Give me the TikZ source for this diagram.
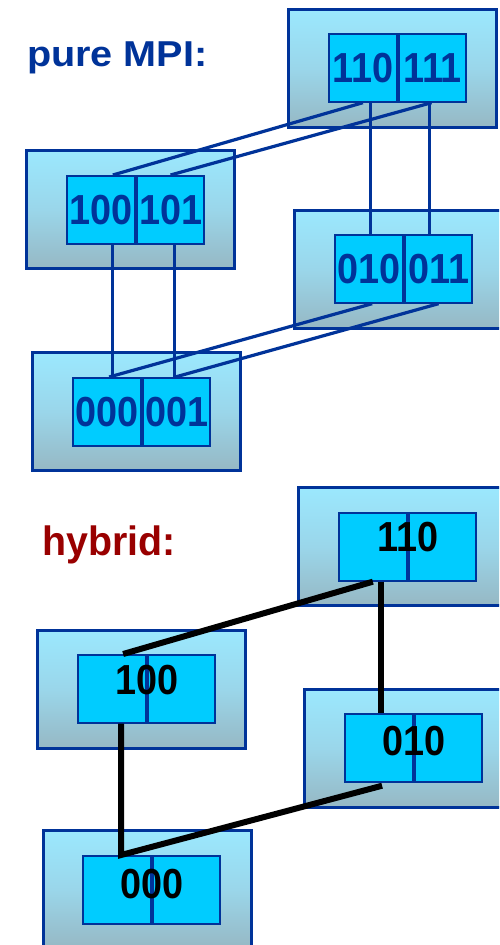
\documentclass[tikz,border=0pt]{standalone}
\usepackage{fontspec}
\setmainfont{Liberation Sans}
\usetikzlibrary{calc}

\definecolor{dblue}{RGB}{0,51,153}
\definecolor{dred}{RGB}{153,0,0}
\definecolor{cellfill}{RGB}{0,204,255}
\definecolor{boxtop}{RGB}{155,232,254}
\definecolor{boxmid}{RGB}{154,214,234}
\definecolor{boxbot}{RGB}{150,184,196}

\tikzset{
  nodebox/.style={draw=dblue, line width=2.8pt, top color=boxtop,
    bottom color=boxbot, middle color=boxmid, minimum width=208,
    minimum height=118, inner sep=0, anchor=north west},
  cell/.style={draw=dblue, line width=2.2pt, fill=cellfill, minimum width=67.5,
    minimum height=67.5, inner sep=0, anchor=north west,
    font=\bfseries\fontsize{42}{42}\selectfont, text=dblue},
  rank/.style={inner sep=0, anchor=base,
    font=\bfseries\fontsize{42}{42}\selectfont, text=black},
  heading/.style={inner sep=0, anchor=base west},
  mpilink/.style={draw=dblue, line width=3.2pt},
  hyblink/.style={draw=black, line width=6pt}
}
\newcommand{\digits}[1]{\scalebox{0.9}[1]{#1}}

\begin{document}
\begin{tikzpicture}[x=1pt, y=-1pt]
\clip (0,0) rectangle (499,945);
\fill[white] (0,0) rectangle (499,945);

% ---------------- pure MPI ----------------
\node[heading, text=dblue, font=\bfseries\fontsize{36}{36}\selectfont]
  (tmpi) at (27,66) {\scalebox{1.1}[1]{pure MPI:}};

\node[nodebox] (oA) at (287,8) {};
\node[nodebox] (oB) at (25,149) {};
\node[nodebox] (oC) at (293,209) {};
\node[nodebox] (oD) at (31,351) {};

\node[cell] (a1) at (328,33) {\digits{110}};
\node[cell] (a2) at (a1.north east) {\digits{111}};
\node[cell] (b1) at (66,175) {\digits{100}};
\node[cell] (b2) at (b1.north east) {\digits{101}};
\node[cell] (c1) at (334,234) {\digits{010}};
\node[cell] (c2) at (c1.north east) {\digits{011}};
\node[cell] (d1) at (72,377) {\digits{000}};
\node[cell] (d2) at (d1.north east) {\digits{001}};

\draw[mpilink] (a1.south) -- ([xshift=12]b1.north);
\draw[mpilink] ([xshift=-1]a2.south) -- (b2.north);
\draw[mpilink] ([xshift=1.25]c1.north |- a1.south) -- ([xshift=1.25]c1.north);
\draw[mpilink] ([xshift=-9.25]c2.north |- a2.south) -- ([xshift=-9.25]c2.north);
\draw[mpilink] ([xshift=5.25]d1.north |- b1.south) -- ([xshift=5.25]d1.north);
\draw[mpilink] ([xshift=-2.25]d2.north |- b2.south) -- ([xshift=-2.25]d2.north);
\draw[mpilink] ([xshift=3.25]c1.south) -- ([xshift=2.25]d1.north);
\draw[mpilink] (c2.south) -- ([xshift=-1.25]d2.north);

% ---------------- hybrid ----------------
\node[heading, text=dred, font=\bfseries\fontsize{41}{41}\selectfont]
  (thyb) at (42,555) {\scalebox{0.96}[1]{hybrid:}};

\node[nodebox] (oE) at (297,486) {};
\node[nodebox] (oF) at (36,629) {};
\node[nodebox] (oG) at (303,688) {};
\node[nodebox] (oH) at (42,829) {};

\node[cell] (e1) at (338,512) {};
\node[cell] (e2) at (e1.north east) {};
\node[cell] (f1) at (77,654) {};
\node[cell] (f2) at (f1.north east) {};
\node[cell] (g1) at (344,713) {};
\node[cell] (g2) at (g1.north east) {};
\node[cell] (h1) at (82,855) {};
\node[cell] (h2) at (h1.north east) {};

\node[rank] (le) at ($(e1.north east)+(0,39)$) {\digits{110}};
\node[rank] (lf) at ($(f1.north east)+(0,40)$) {\digits{100}};
\node[rank] (lg) at ($(g1.north east)+(0,42)$) {\digits{010}};
\node[rank] (lh) at ($(h1.north east)+(0,43)$) {\digits{000}};

\draw[hyblink] (e1.south) -- ([xshift=11.25]f1.north);
\draw[hyblink] ([xshift=2.25]g1.north |- e1.south) -- ([xshift=2.25]g1.north);
\draw[hyblink] ([xshift=9.25]f1.south) -- ([xshift=4.25]h1.north)
  -- ([xshift=3.25,yshift=-3]g1.south);
\end{tikzpicture}
\end{document}
